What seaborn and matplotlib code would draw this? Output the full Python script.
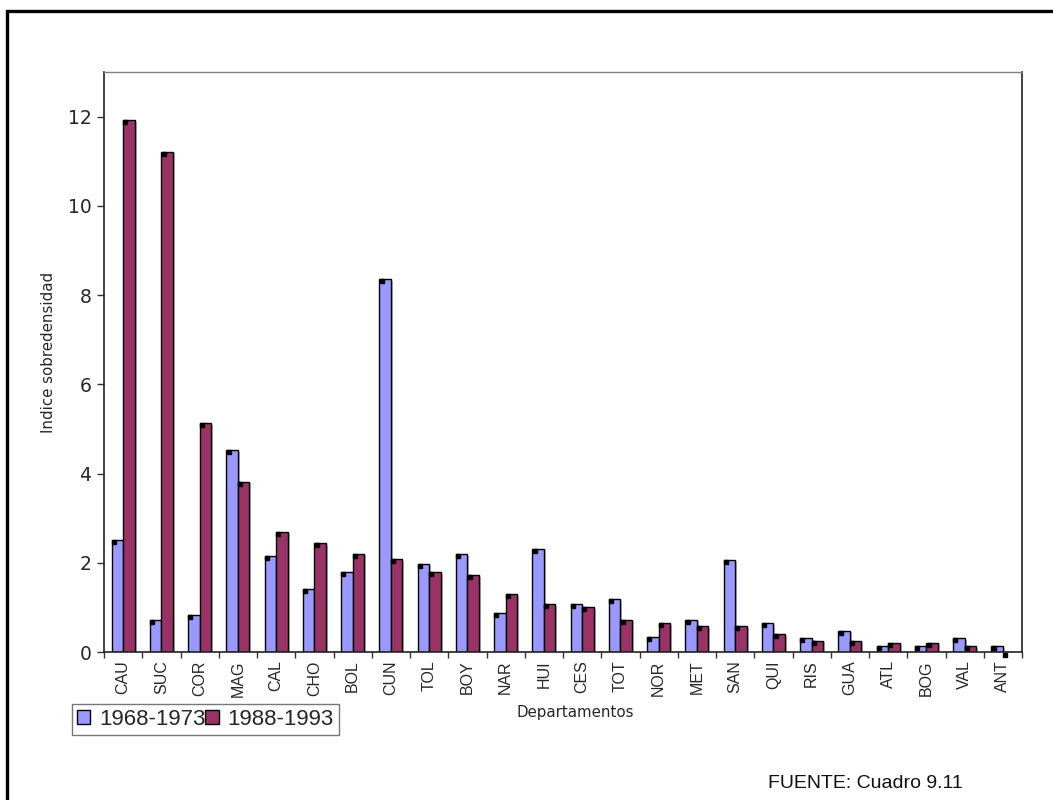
import numpy as np
import pandas as pd
import matplotlib
matplotlib.use("Agg")
import matplotlib.pyplot as plt
import matplotlib.patheffects as pe
from matplotlib.lines import Line2D
from matplotlib.transforms import ScaledTranslation
import seaborn as sns

# Overdensity index by department, two periods
departamentos = ["CAU", "SUC", "COR", "MAG", "CAL", "CHO", "BOL", "CUN", "TOL", "BOY",
                 "NAR", "HUI", "CES", "TOT", "NOR", "MET", "SAN", "QUI", "RIS", "GUA",
                 "ATL", "BOG", "VAL", "ANT"]
periodo_1968_1973 = [2.50, 0.72, 0.83, 4.52, 2.15, 1.42, 1.79, 8.35, 1.97, 2.19,
                     0.88, 2.31, 1.07, 1.18, 0.34, 0.72, 2.07, 0.64, 0.31, 0.48,
                     0.13, 0.13, 0.31, 0.13]
periodo_1988_1993 = [11.92, 11.21, 5.13, 3.81, 2.69, 2.44, 2.20, 2.08, 1.79, 1.72,
                     1.29, 1.07, 1.00, 0.72, 0.64, 0.58, 0.58, 0.40, 0.25, 0.25,
                     0.20, 0.20, 0.13, -0.03]
periodos = ["1968-1973", "1988-1993"]
colores = {"1968-1973": "#9999FF", "1988-1993": "#993366"}
y_ticks = [0, 2, 4, 6, 8, 10, 12]

df = pd.DataFrame({
    "Departamento": departamentos * 2,
    "Indice": periodo_1968_1973 + periodo_1988_1993,
    "Periodo": [periodos[0]] * len(departamentos) + [periodos[1]] * len(departamentos),
})

sns.set_theme(style="white")
plt.rcParams["font.family"] = ["DejaVu Sans"]

fig = plt.figure(figsize=(10.53, 8.0), dpi=100)
ax = fig.add_axes([104 / 1053, 1 - 652 / 800, (1022 - 104) / 1053, (652 - 72) / 800])

sns.barplot(data=df, x="Departamento", y="Indice", hue="Periodo",
            order=departamentos, hue_order=periodos, palette=colores,
            width=0.6, edgecolor="black", linewidth=1.0, saturation=1,
            errorbar=None, legend=False, ax=ax)

# soft drop shadow and the small corner square on each bar
corner = ax.transData + ScaledTranslation(2.2 / 100, -2.0 / 100, fig.dpi_scale_trans)
for patch in ax.patches:
    patch.set_path_effects([pe.SimplePatchShadow(offset=(1.5, -1.0), shadow_rgbFace="#888888", alpha=0.6),
                            pe.Normal()])
    ax.plot([patch.get_x()], [patch.get_y() + patch.get_height()], marker="s",
            markersize=2.6, color="black", linestyle="none", transform=corner,
            clip_on=False, zorder=5)

ax.set_xlim(-0.5, len(departamentos) - 0.5)
ax.set_ylim(0, 13)
ax.set_yticks(y_ticks)
ax.set_yticklabels([str(v) for v in y_ticks], fontsize=13.5)

ax.set_xticks(range(len(departamentos)))
ax.set_xticklabels(departamentos, rotation=90, fontsize=11.5, family="Liberation Sans")
ax.set_xticks(np.arange(-0.5, len(departamentos), 1.0), minor=True)
ax.tick_params(axis="x", which="major", length=0, pad=6)
ax.tick_params(axis="x", which="minor", length=4, width=1, color="#333333", direction="out", bottom=True)
ax.tick_params(axis="y", which="major", length=5, width=1, color="#333333", direction="out", left=True, pad=4)

for side in ["left", "bottom", "right"]:
    ax.spines[side].set_color("#222222")
    ax.spines[side].set_linewidth(1.2)
ax.spines["top"].set_color("#808080")
ax.spines["top"].set_linewidth(1.0)

ax.set_xlabel("Departamentos", fontsize=10.8)
ax.set_ylabel("Indice sobredensidad", fontsize=10.8)
ax.xaxis.set_label_coords(0.513, -0.105)
ax.xaxis.label.set_va("center")
ax.yaxis.set_label_coords(-0.061, 0.517)
ax.yaxis.label.set_va("center")

handles = [plt.Rectangle((0, 0), 1, 1, facecolor=colores[p], edgecolor="black", linewidth=1.0)
           for p in periodos]
leg = fig.legend(handles, periodos, loc="upper left", bbox_to_anchor=(72 / 1053, 1 - 704 / 800),
                 bbox_transform=fig.transFigure, ncol=2, frameon=True, fancybox=False,
                 prop={"family": "Liberation Sans", "size": 16}, handlelength=0.6,
                 handleheight=0.6, handletextpad=0.4, columnspacing=0.0,
                 borderpad=0.22, borderaxespad=0)
leg.get_frame().set_edgecolor("#555555")
leg.get_frame().set_linewidth(1.0)

fig.text(865 / 1053, 1 - 784 / 800, "FUENTE: Cuadro 9.11", ha="center", va="center",
         fontsize=14, family="Liberation Sans", color="#111111")

# page frame (top and left edges)
fig.add_artist(Line2D([7 / 1053, 7 / 1053, 1.0], [0.0, 1 - 11 / 800, 1 - 11 / 800],
                      transform=fig.transFigure, color="black", linewidth=2.4,
                      solid_joinstyle="miter"))

fig.savefig("out.png", dpi=100)
